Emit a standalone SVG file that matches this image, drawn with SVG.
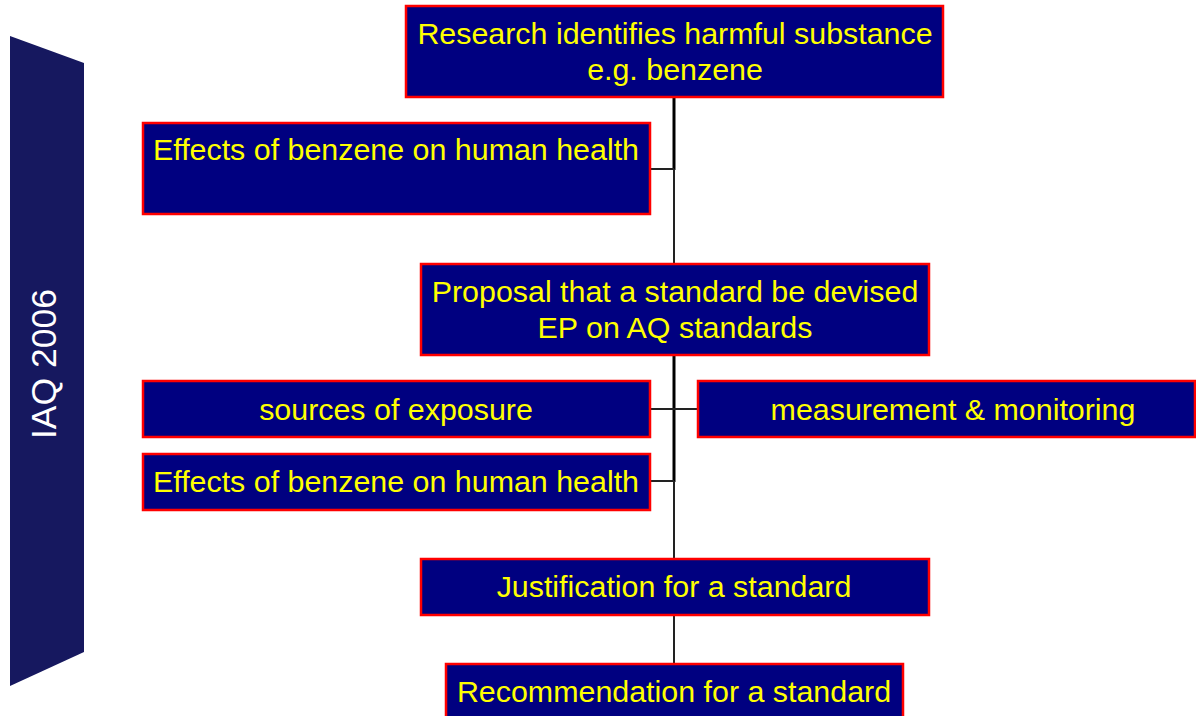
<svg xmlns="http://www.w3.org/2000/svg" width="1196" height="716" viewBox="0 0 1196 716">
<style>
.box{fill:#000080;stroke:#ff0000;stroke-width:2.5}
.t{font-family:"Liberation Sans",Arial,sans-serif;font-size:30.4px;fill:#ffff00;text-anchor:middle}
.thick{stroke:#000;stroke-width:3;fill:none}
.thin{stroke:#222;stroke-width:2;fill:none}
</style>
<rect width="1196" height="716" fill="#ffffff"/>
<g id="banner">
<polygon points="10,36 84,63 84,652 10,686" fill="#16185f"/>
<text x="56" y="364" transform="rotate(-90 56 364)" font-family="'Liberation Sans',Arial,sans-serif" font-size="35.5" fill="#ffffff" text-anchor="middle">IAQ 2006</text>
</g>
<g id="connectors">
<line class="thick" x1="674" y1="97" x2="674" y2="170"/>
<line class="thin" x1="674" y1="169" x2="674" y2="264"/>
<line class="thin" x1="650" y1="169" x2="674" y2="169"/>
<line class="thick" x1="674" y1="355" x2="674" y2="482"/>
<line class="thin" x1="650" y1="409" x2="698" y2="409"/>
<line class="thin" x1="650" y1="481" x2="674" y2="481"/>
<line class="thin" x1="674" y1="481" x2="674" y2="559"/>
<line class="thin" x1="674" y1="615" x2="674" y2="664"/>
</g>
<g id="research">
<rect class="box" x="406" y="6" width="537" height="91"/>
<text class="t" x="675" y="44">Research identifies harmful substance</text>
<text class="t" x="675" y="80">e.g. benzene</text>
</g>
<g id="effects1">
<rect class="box" x="143" y="123" width="507" height="91"/>
<text class="t" x="396" y="160">Effects of benzene on human health</text>
</g>
<g id="proposal">
<rect class="box" x="421" y="264" width="508" height="91"/>
<text class="t" x="675" y="302">Proposal that a standard be devised</text>
<text class="t" x="675" y="338">EP on AQ standards</text>
</g>
<g id="sources">
<rect class="box" x="143" y="381" width="507" height="56"/>
<text class="t" x="396" y="420">sources of exposure</text>
</g>
<g id="measurement">
<rect class="box" x="698" y="381" width="497" height="56"/>
<text class="t" x="953" y="420">measurement &amp; monitoring</text>
</g>
<g id="effects2">
<rect class="box" x="143" y="454" width="507" height="56"/>
<text class="t" x="396" y="492">Effects of benzene on human health</text>
</g>
<g id="justification">
<rect class="box" x="421" y="559" width="508" height="56"/>
<text class="t" x="674" y="597">Justification for a standard</text>
</g>
<g id="recommendation">
<rect class="box" x="446" y="664" width="457" height="60"/>
<text class="t" x="674" y="702">Recommendation for a standard</text>
</g>
</svg>
